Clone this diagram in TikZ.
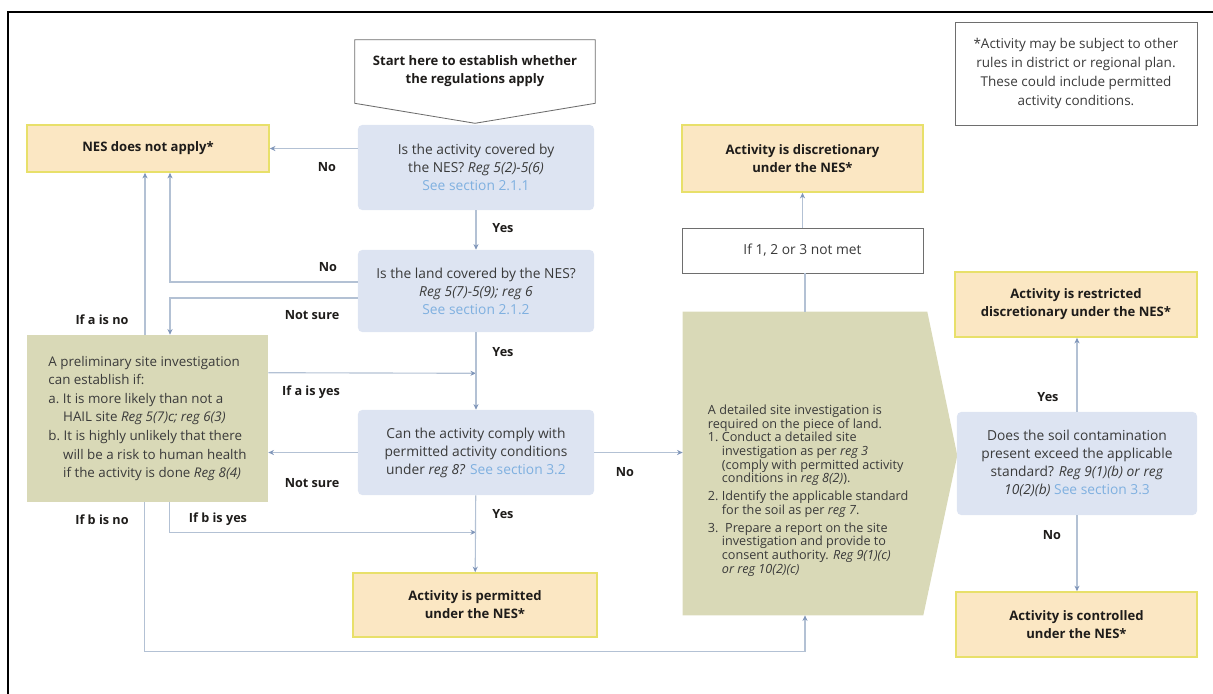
\documentclass[tikz,border=0pt]{standalone}
\usepackage{fontspec}
\setmainfont{Open Sans}
\usepackage{xcolor}
\definecolor{ink}{HTML}{1E1C1A}
\definecolor{bodytext}{HTML}{3A3A3A}
\definecolor{askfill}{HTML}{DDE4F2}
\definecolor{resultfill}{HTML}{FBE7C3}
\definecolor{resultedge}{HTML}{E8E06A}
\definecolor{sitefill}{HTML}{D9D9B7}
\definecolor{edgegray}{HTML}{6E6E6E}
\definecolor{wire}{HTML}{B3C1D4}
\definecolor{wiretip}{HTML}{8096BA}
\definecolor{linkblue}{HTML}{7FB0E0}
\usetikzlibrary{calc,arrows.meta,positioning,backgrounds}

\tikzset{
  box/.style={inner sep=0pt, align=center, text=bodytext, font=\fontsize{9.8}{12.8}\selectfont},
  askbox/.style={box, fill=askfill, rounded corners=3pt, minimum width=5.9cm},
  resultbox/.style={box, fill=resultfill, draw=resultedge, line width=1.1pt, text=ink,
    font=\bfseries\fontsize{9.3}{12.8}\selectfont},
  sitebox/.style={box, fill=sitefill},
  plainbox/.style={box, draw=edgegray, line width=0.6pt, fill=white},
  wire/.style={draw=wire, line width=0.8pt},
  flow/.style={wire, -{Stealth[length=4pt, width=3.6pt, color=wiretip]}},
  lbl/.style={font=\bfseries\fontsize{9}{12}\selectfont, text=ink, inner sep=1pt},
}

\begin{document}
\begin{tikzpicture}[x=0.025cm, y=-0.025cm]
  \useasboundingbox (0,0) rectangle (1213,693);

  % outer frame, cut off at the right and the bottom
  \draw[line width=1.1pt] (8,720) -- (8,12) -- (1240,12);

  % ---------- left column
  \node[resultbox, minimum width=6.05cm, minimum height=1.175cm] (nes) at (148,148.5) {NES does not apply*};
  \node[sitebox, minimum width=6.025cm, minimum height=4.175cm, align=left,
        font=\fontsize{9.5}{13.2}\selectfont] (prelim) at (147.5,418.5)
    {A preliminary site investigation\\
     can establish if:\\
     a.\ It is more likely than not a\\
     \hspace*{1.1em}HAIL site \textit{Reg 5(7)c; reg 6(3)}\\
     b.\ It is highly unlikely that there\\
     \hspace*{1.1em}will be a risk to human health\\
     \hspace*{1.1em}if the activity is done \textit{Reg 8(4)}};

  % ---------- centre column
  \node[box, font=\bfseries\fontsize{9.3}{12.8}\selectfont, text=ink,
        minimum width=6.0cm, minimum height=1.575cm] (start) at (475,71.5)
    {Start here to establish whether\\the regulations apply};
  \node[askbox, minimum height=2.125cm] (q1) at (476,167.5)
    {Is the activity covered by\\the NES? \textit{Reg 5(2)-5(6)}\\\textcolor{linkblue}{See section 2.1.1}};
  \node[askbox, minimum height=2.05cm] (q2) at (476,291)
    {Is the land covered by the NES?\\\textit{Reg 5(7)-5(9); reg 6}\\\textcolor{linkblue}{See section 2.1.2}};
  \node[askbox, minimum height=2.125cm] (q3) at (476,452.5)
    {Can the activity comply with\\permitted activity conditions\\under \textit{reg 8?} \textcolor{linkblue}{See section 3.2}};
  \node[resultbox, minimum width=6.1cm, minimum height=1.6cm] (permitted) at (475,605)
    {Activity is permitted\\under the NES*};

  % ---------- detailed investigation column
  \node[resultbox, minimum width=6.025cm, minimum height=1.675cm] (disc) at (802.5,158.5)
    {Activity is discretionary\\under the NES*};
  \node[plainbox, minimum width=6.025cm, minimum height=1.125cm] (notmet) at (802.5,250.5)
    {If 1, 2 or 3 not met};
  \node[inner sep=0pt, minimum width=6.1cm, minimum height=7.575cm] (dbody) at (805,463.5) {};
  \node[box, align=left, anchor=north west, font=\fontsize{9}{9.7}\selectfont] (detailed)
    at ($(dbody.north west)+(25,93)$)
    {A detailed site investigation is\\
     required on the piece of land.\\
     1.\ Conduct a detailed site\\
     \hspace*{1.1em}investigation as per \textit{reg 3}\\
     \hspace*{1.1em}(comply with permitted activity\\
     \hspace*{1.1em}conditions in \textit{reg 8(2)}).\\[3pt]
     2.\ Identify the applicable standard\\
     \hspace*{1.1em}for the soil as per \textit{reg 7}.\\[3pt]
     3.\ \ Prepare a report on the site\\
     \hspace*{1.1em}investigation and provide to\\
     \hspace*{1.1em}consent authority. \textit{Reg 9(1)(c)}\\
     \hspace*{1.1em}\textit{or reg 10(2)(c)}};

  % ---------- right column
  \node[plainbox, minimum width=6.05cm, minimum height=2.575cm,
        font=\fontsize{9.6}{13.3}\selectfont] (note) at (1076,73.5)
    {*Activity may be subject to other\\rules in district or regional plan.\\These could include permitted\\activity conditions.};
  \node[resultbox, minimum width=6.05cm, minimum height=1.625cm] (restricted) at (1076,304.5)
    {Activity is restricted\\discretionary under the NES*};
  \node[askbox, minimum width=6.0cm, minimum height=2.575cm] (q4) at (1077,463.5)
    {Does the soil contamination\\present exceed the applicable\\standard? \textit{Reg 9(1)(b) or reg}\\\textit{10(2)(b)} \textcolor{linkblue}{See section 3.3}};
  \node[resultbox, minimum width=6.025cm, minimum height=1.625cm] (controlled) at (1076.5,624.5)
    {Activity is controlled\\under the NES*};

  % arrow-shaped outlines behind the texts
  \begin{scope}[on background layer]
    \filldraw[fill=white, draw=edgegray, line width=0.6pt]
      (start.north west) -- (start.north east) -- (start.south east)
      -- ($(start.south)+(0,20)$) -- (start.south west) -- cycle;
    \fill[sitefill] (dbody.north west) -- (dbody.north east) -- ($(dbody.east)+(30,-8)$)
      -- ($(dbody.south east)+(-4,0)$) -- (dbody.south west) -- cycle;
  \end{scope}

  % ---------- connectors
  \coordinate (nesR) at ($(nes.south)+(22,0)$);
  \coordinate (nesL) at ($(nes.south)+(-3,0)$);
  \draw[flow] (q1.west |- nes.east) -- (nes.east);
  \draw[flow] (q1) -- (q2);
  \draw[flow] ($(q2.west)+(0,-9)$) -| (nesR);
  \draw[flow] ($(q2.west)+(0,7)$) -| (prelim.north -| nesR);
  \draw[flow] (prelim.north -| nesL) -- (nesL);
  \draw[flow] ($(prelim.north east)+(0,38)$) -- ($(q2.south)+(0,41)$);
  \draw[flow] (q2) -- (q3);
  \draw[flow] (q3.west) -- (q3.west -| prelim.east);
  \draw[flow] ($(prelim.south)+(22,0)$) |- ($(q3.south)+(0,37)$);
  \draw[flow] (q3) -- (permitted);
  \draw[flow] ($(prelim.south)+(-3,0)$) |- ($(permitted.south)+(0,14)$) -| (dbody.south);
  \draw[flow] (q3.east) -- (q3.east -| dbody.west);
  \draw[wire] (dbody.north) -- (dbody.north |- notmet.south);
  \draw[flow] (notmet) -- (disc);
  \draw[flow] (q4.north) -- (q4.north |- restricted.south);
  \draw[flow] (q4.south) -- (q4.south |- controlled.north);

  % ---------- connector labels
  \node[lbl] (l1no) at (327,167) {No};
  \node[lbl] (l1yes) at (503,228) {Yes};
  \node[lbl] (l2no) at (328,267) {No};
  \node[lbl] (l2unsure) at (312,315) {Not sure};
  \node[lbl] (lano) at (102,320) {If a is no};
  \node[lbl] (l2yes) at (503,352) {Yes};
  \node[lbl] (layes) at (311,392) {If a is yes};
  \node[lbl] (l3unsure) at (312,483) {Not sure};
  \node[lbl] (l3no) at (625,472) {No};
  \node[lbl] (lbno) at (102,520) {If b is no};
  \node[lbl] (lbyes) at (218,519) {If b is yes};
  \node[lbl] (l3yes) at (503,514) {Yes};
  \node[lbl] (l4yes) at (1048,397) {Yes};
  \node[lbl] (l4no) at (1052,535) {No};
\end{tikzpicture}
\end{document}
